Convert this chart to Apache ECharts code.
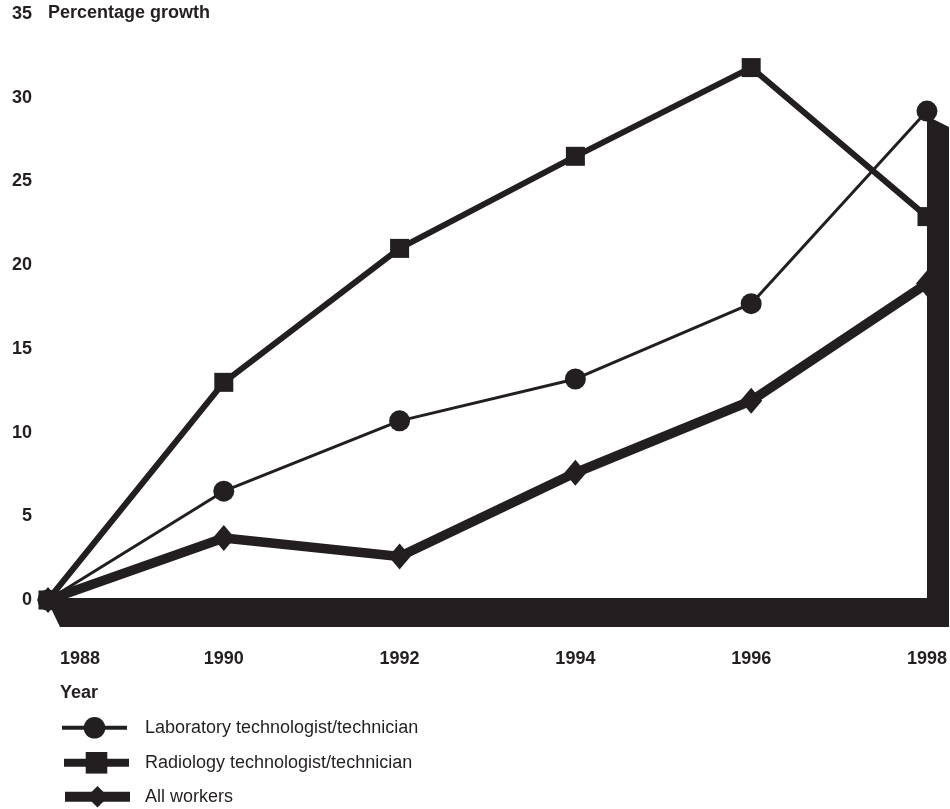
<!DOCTYPE html>
<html>
<head>
<meta charset="utf-8">
<script src="https://cdn.jsdelivr.net/npm/echarts@6/dist/echarts.min.js"></script>
<style>
  html, body { margin: 0; padding: 0; background: #fff; }
  #chart { width: 950px; height: 809px; }
</style>
</head>
<body>
<div id="chart"></div>
<script>
// 数据
var years = ['1988', '1990', '1992', '1994', '1996', '1998']
var labValues = [0, 6.5, 10.7, 13.2, 17.7, 29.2]
var radiologyValues = [0, 13, 21, 26.5, 31.8, 22.9]
var allWorkersValues = [0, 3.7, 2.6, 7.6, 11.9, 18.9]
var seriesNames = ['Laboratory technologist/technician', 'Radiology technologist/technician', 'All workers']

var ink = '#231f20'
var font = 'Liberation Sans, Arial, Helvetica, sans-serif'

var chart = echarts.init(document.getElementById('chart'))

// 粗边框（底部横条 + 右侧竖条）
var lastIndex = years.length - 1
var frameTop = Math.max(labValues[lastIndex], radiologyValues[lastIndex], allWorkersValues[lastIndex])

var renderFrame = function (params, api) {
  var top = api.coord([api.value(0), api.value(1)])
  var base = api.coord([0, 0])
  var right = api.coord([api.value(0), 0])
  var pts = [
    [base[0] - 2, base[1] - 2],
    [right[0], right[1] - 2],
    [top[0], top[1] + 5],
    [top[0] + 22, top[1] + 16],
    [right[0] + 22, right[1] + 27],
    [base[0] + 12, base[1] + 27]
  ]
  return { type: 'polygon', shape: { points: pts }, style: { fill: ink } }
}

// 图例：每行单独一个，方便控制行距和线宽
var legendTops = [717, 752, 786]
var legendLineWidths = [4, 8, 10]
var legendTextPad = [13, 11, 10]
var legends = seriesNames.map(function (name, i) {
  return {
    data: [name],
    orient: 'vertical',
    left: 60,
    top: legendTops[i],
    itemWidth: 65,
    itemHeight: 27,
    padding: 0,
    selectedMode: false,
    lineStyle: { width: legendLineWidths[i] },
    textStyle: { color: ink, fontFamily: font, fontSize: 18, padding: [0, 0, 0, legendTextPad[i]] }
  }
})

var option = {
  animation: false,
  title: [
    {
      text: 'Percentage growth',
      left: 48,
      top: 4,
      padding: 0,
      textStyle: { color: ink, fontFamily: font, fontSize: 18, fontWeight: 'bold' }
    },
    {
      text: 'Year',
      left: 60,
      top: 684,
      padding: 0,
      textStyle: { color: ink, fontFamily: font, fontSize: 18, fontWeight: 'bold' }
    }
  ],
  legend: legends,
  grid: {
    left: 48,
    right: 17,
    top: 14,
    bottom: 209,
    containLabel: false
  },
  xAxis: {
    type: 'category',
    data: years,
    boundaryGap: false,
    axisLine: { show: false },
    axisTick: { show: false },
    splitLine: { show: false },
    axisLabel: {
      margin: 50,
      color: ink,
      fontFamily: font,
      fontSize: 18,
      fontWeight: 'bold',
      formatter: function (v, i) {
        return i === 0 ? '{first|' + v + '}' : v
      },
      rich: {
        first: { padding: [0, 0, 0, 64], color: ink, fontFamily: font, fontSize: 18, fontWeight: 'bold' }
      }
    }
  },
  yAxis: {
    type: 'value',
    min: 0,
    max: 35,
    interval: 5,
    axisLine: { show: false },
    axisTick: { show: false },
    splitLine: { show: false },
    axisLabel: {
      margin: 16,
      color: ink,
      fontFamily: font,
      fontSize: 18,
      fontWeight: 'bold'
    }
  },
  series: [
    {
      name: seriesNames[0],
      type: 'line',
      data: labValues,
      symbol: 'circle',
      symbolSize: 21,
      color: ink,
      lineStyle: { color: ink, width: 3 },
      itemStyle: { color: ink },
      emphasis: { disabled: true },
      z: 4
    },
    {
      name: seriesNames[1],
      type: 'line',
      data: radiologyValues,
      symbol: 'rect',
      symbolSize: 19,
      color: ink,
      lineStyle: { color: ink, width: 6 },
      itemStyle: { color: ink },
      emphasis: { disabled: true },
      z: 3
    },
    {
      name: seriesNames[2],
      type: 'line',
      data: allWorkersValues,
      symbol: 'diamond',
      symbolSize: [22, 26],
      color: ink,
      lineStyle: { color: ink, width: 9.5 },
      itemStyle: { color: ink },
      emphasis: { disabled: true },
      z: 3
    },
    {
      type: 'custom',
      data: [[lastIndex, frameTop]],
      renderItem: renderFrame,
      clip: false,
      silent: true,
      z: 5
    }
  ]
}

chart.setOption(option)
</script>
</body>
</html>
